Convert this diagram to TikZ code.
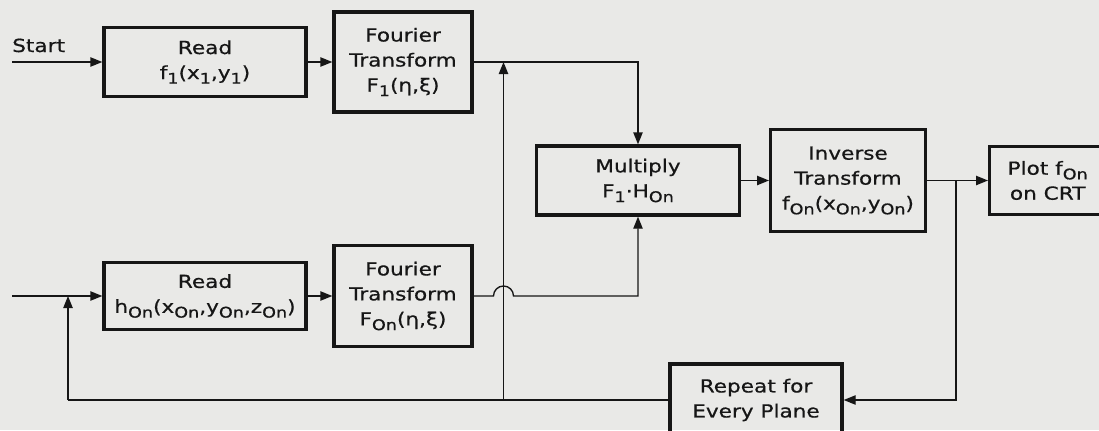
\documentclass[tikz,border=0pt]{standalone}
\usepackage{fontspec}
\setmainfont{DejaVu Sans}[FakeStretch=1.2, FakeBold=0.6]
\usetikzlibrary{arrows.meta}
\usepackage{xcolor}
\definecolor{paper}{RGB}{233,233,231}
\definecolor{ink}{RGB}{22,22,22}
\newcommand{\lo}[1]{\raisebox{-3.5pt}{\fontsize{11}{11}\selectfont #1}}

\begin{document}
\begin{tikzpicture}[x=0.75pt, y=0.75pt, font=\fontsize{13.5}{18.75}\selectfont, color=ink]
\tikzset{
  box/.style={rectangle, draw=ink, line width=2.5pt, inner sep=1pt, align=center},
  arr/.style={-{Triangle[length=9pt,width=7pt]}, line width=1pt},
  wire/.style={line width=1pt},
}
\fill[paper] (0,0) rectangle (1099,430);
\useasboundingbox (0,0) rectangle (1099,430);
% upper row
\node[anchor=base west, inner sep=0pt] (start) at (12,378) {Start};
\coordinate (s1) at (12,368);
\node[box, minimum width=151.5pt, minimum height=51.75pt] (rf) at (205,368) {Read\\f\lo{1}(x\lo{1},y\lo{1})};
\node[box, minimum width=103.5pt, minimum height=75pt] (ft1) at (403,368) {Fourier\\Transform\\F\lo{1}(η,ξ)};
% middle row
\node[box, minimum width=152pt, minimum height=51.75pt] (mult) at (638,249.5) {Multiply\\F\lo{1}·H\lo{On}};
\node[box, minimum width=116pt, minimum height=76.5pt] (inv) at (848,249.5) {Inverse\\Transform\\f\lo{On}(x\lo{On},y\lo{On})};
% box runs off the right margin
\node[box, anchor=west, minimum width=130pt, minimum height=51pt] (plot) at (988,249.5) {Plot f\lo{On}\hspace*{43pt}\\on CRT\hspace*{43pt}};
% lower row
\coordinate (s2) at (12,134);
\node[box, minimum width=151.5pt, minimum height=50.25pt] (rh) at (205,134) {Read\\h\lo{On}(x\lo{On},y\lo{On},z\lo{On})};
\node[box, minimum width=103.5pt, minimum height=75.75pt] (ft2) at (403,134) {Fourier\\Transform\\F\lo{On}(η,ξ)};
\node[box, minimum width=129pt, minimum height=54pt] (rep) at (756,30) {Repeat for\\Every Plane};
% junctions
\coordinate (hop) at (503.5,134);
\coordinate (j1) at (503.5,368);
\coordinate (b1) at (503.5,30);
\coordinate (j2) at (68,134);
\coordinate (b2) at (68,30);
\coordinate (br) at (956,249.5);
% connectors
\draw[arr] (s1) -- (rf);
\draw[arr] (rf) -- (ft1);
\draw[arr] (ft1.east) -| (mult.north);
\draw[arr] (s2) -- (rh);
\draw[arr] (rh) -- (ft2);
\draw[arr] (ft2.east) -- ([xshift=-7.5pt]hop) arc[start angle=180, end angle=0, radius=10] -| (mult.south);
\draw[arr] (mult) -- (inv);
\draw[arr] (inv) -- (plot);
\draw[arr] (br) |- (rep.east);
\draw[wire] (rep.west) -- (b2);
\draw[arr] (b2) -- (j2);
\draw[arr] (b1) -- (j1);
\end{tikzpicture}
\end{document}
